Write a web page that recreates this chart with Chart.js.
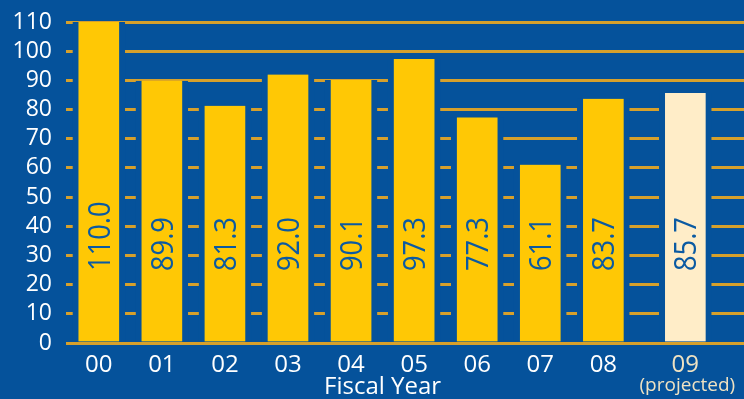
<!DOCTYPE html>
<html>
<head>
<meta charset="utf-8">
<script src="https://cdn.jsdelivr.net/npm/chart.js@4/dist/chart.umd.min.js"></script>
<style>
  html, body { margin: 0; padding: 0; background: #05529b; }
  canvas { display: block; }
</style>
</head>
<body>
<canvas id="budgetChart" width="744" height="399"></canvas>
<script>
// fiscal years and amounts
const years = ['00', '01', '02', '03', '04', '05', '06', '07', '08', '09'];
const amounts = [110.0, 89.9, 81.3, 92.0, 90.1, 97.3, 77.3, 61.1, 83.7, 85.7];
// slot of each year on the axis (the projected year sits a bit further out)
const yearSlots = [0, 1, 2, 3, 4, 5, 6, 7, 8, 9.3];
const yTicks = [0, 10, 20, 30, 40, 50, 60, 70, 80, 90, 100, 110];

const bgBlue = '#05529b';
const gold = '#ffc805';
const cream = '#ffedc8';
const creamText = '#efe2c2';

const barColors = years.map((y, i) => i === years.length - 1 ? cream : gold);

// value written sideways inside each bar, plus the axis extras
const barLabels = {
    id: 'barLabels',
    afterDatasetsDraw(chart) {
        const ctx = chart.ctx;
        const yScale = chart.scales.y;
        const base = yScale.getPixelForValue(0);
        const meta = chart.getDatasetMeta(0);
        ctx.save();
        ctx.fillStyle = '#0b5aa2';
        ctx.font = '31px "Open Sans"';
        ctx.textAlign = 'left';
        ctx.textBaseline = 'alphabetic';
        meta.data.forEach((bar, i) => {
            ctx.save();
            ctx.translate(bar.x + 11, base - 72);
            ctx.rotate(-Math.PI / 2);
            ctx.scale(0.88, 1);
            ctx.fillText(amounts[i].toFixed(1), 0, 0);
            ctx.restore();
        });
        ctx.restore();
    },
    afterDraw(chart) {
        const ctx = chart.ctx;
        const xScale = chart.scales.x;
        ctx.save();
        ctx.textAlign = 'center';
        ctx.textBaseline = 'alphabetic';
        ctx.fillStyle = '#ffffff';
        ctx.font = '24px "Open Sans"';
        ctx.fillText('Fiscal Year', xScale.getPixelForValue(4.5), 394);
        ctx.fillStyle = creamText;
        ctx.font = '19px "Open Sans"';
        ctx.fillText('(projected)', xScale.getPixelForValue(yearSlots[yearSlots.length - 1]) + 2, 391);
        ctx.restore();
    }
};

new Chart(document.getElementById('budgetChart'), {
    type: 'bar',
    data: {
        datasets: [{
            data: yearSlots.map((x, i) => ({ x: x, y: amounts[i] })),
            backgroundColor: barColors,
            borderColor: bgBlue,
            borderWidth: { left: 6, right: 6, top: 0, bottom: 0 },
            borderSkipped: false,
            barThickness: 52
        }]
    },
    options: {
        responsive: false,
        animation: false,
        layout: { padding: { top: 22, right: 0, left: 0, bottom: 0 } },
        plugins: {
            legend: { display: false },
            tooltip: { enabled: false }
        },
        scales: {
            x: {
                type: 'linear',
                offset: false,
                min: -0.52,
                max: 10.23,
                afterBuildTicks: (axis) => { axis.ticks = yearSlots.map(v => ({ value: v })); },
                afterFit: (axis) => { axis.height = 56; },
                grid: { display: false, drawTicks: false },
                border: { display: false },
                ticks: {
                    autoSkip: false,
                    maxRotation: 0,
                    padding: 8,
                    font: { family: 'Open Sans', size: 24 },
                    color: (c) => c.index === years.length - 1 ? creamText : '#ffffff',
                    callback: (value, index) => years[index]
                }
            },
            y: {
                min: 0,
                max: 110,
                afterBuildTicks: (axis) => { axis.ticks = yTicks.map(v => ({ value: v })); },
                afterFit: (axis) => { axis.width = 66; },
                grid: { color: '#d6a02c', lineWidth: 3, drawTicks: false },
                border: { display: false },
                ticks: {
                    autoSkip: false,
                    padding: 14,
                    font: { family: 'Open Sans', size: 23, lineHeight: 0.6 },
                    color: '#ffffff'
                }
            }
        }
    },
    plugins: [barLabels]
});
</script>
</body>
</html>
